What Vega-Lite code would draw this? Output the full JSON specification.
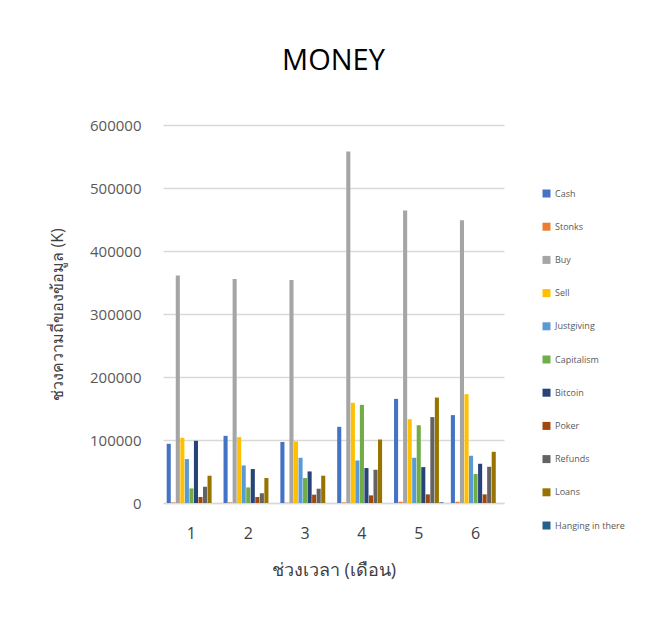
{
  "$schema": "https://vega.github.io/schema/vega-lite/v6.json",
  "autosize": {"type": "none"},
  "width": 341,
  "height": 378,
  "padding": {"left": 163, "top": 125, "right": 153, "bottom": 118},
  "background": "white",
  "title": {
    "text": "MONEY",
    "fontSize": 29,
    "font": "Open Sans",
    "fontWeight": "normal",
    "color": "#000000",
    "anchor": "middle",
    "frame": "group",
    "offset": 42
  },
  "data": {
    "values": [
      {"month": "1", "series": "Cash", "value": 94000},
      {"month": "1", "series": "Stonks", "value": 1000},
      {"month": "1", "series": "Buy", "value": 361300},
      {"month": "1", "series": "Sell", "value": 103500},
      {"month": "1", "series": "Justgiving", "value": 69700},
      {"month": "1", "series": "Capitalism", "value": 23200},
      {"month": "1", "series": "Bitcoin", "value": 98700},
      {"month": "1", "series": "Poker", "value": 9500},
      {"month": "1", "series": "Refunds", "value": 25800},
      {"month": "1", "series": "Loans", "value": 43300},
      {"month": "1", "series": "Hanging in there", "value": 0},
      {"month": "2", "series": "Cash", "value": 106600},
      {"month": "2", "series": "Stonks", "value": 1000},
      {"month": "2", "series": "Buy", "value": 355500},
      {"month": "2", "series": "Sell", "value": 104600},
      {"month": "2", "series": "Justgiving", "value": 59600},
      {"month": "2", "series": "Capitalism", "value": 24700},
      {"month": "2", "series": "Bitcoin", "value": 53900},
      {"month": "2", "series": "Poker", "value": 9500},
      {"month": "2", "series": "Refunds", "value": 15300},
      {"month": "2", "series": "Loans", "value": 39600},
      {"month": "2", "series": "Hanging in there", "value": 0},
      {"month": "3", "series": "Cash", "value": 96700},
      {"month": "3", "series": "Stonks", "value": 500},
      {"month": "3", "series": "Buy", "value": 353900},
      {"month": "3", "series": "Sell", "value": 97700},
      {"month": "3", "series": "Justgiving", "value": 71800},
      {"month": "3", "series": "Capitalism", "value": 39600},
      {"month": "3", "series": "Bitcoin", "value": 50100},
      {"month": "3", "series": "Poker", "value": 13200},
      {"month": "3", "series": "Refunds", "value": 22700},
      {"month": "3", "series": "Loans", "value": 43300},
      {"month": "3", "series": "Hanging in there", "value": 0},
      {"month": "4", "series": "Cash", "value": 120900},
      {"month": "4", "series": "Stonks", "value": 1000},
      {"month": "4", "series": "Buy", "value": 557800},
      {"month": "4", "series": "Sell", "value": 159000},
      {"month": "4", "series": "Justgiving", "value": 67500},
      {"month": "4", "series": "Capitalism", "value": 155800},
      {"month": "4", "series": "Bitcoin", "value": 55500},
      {"month": "4", "series": "Poker", "value": 12100},
      {"month": "4", "series": "Refunds", "value": 52800},
      {"month": "4", "series": "Loans", "value": 100800},
      {"month": "4", "series": "Hanging in there", "value": 0},
      {"month": "5", "series": "Cash", "value": 165300},
      {"month": "5", "series": "Stonks", "value": 2000},
      {"month": "5", "series": "Buy", "value": 464300},
      {"month": "5", "series": "Sell", "value": 133100},
      {"month": "5", "series": "Justgiving", "value": 71800},
      {"month": "5", "series": "Capitalism", "value": 123600},
      {"month": "5", "series": "Bitcoin", "value": 57000},
      {"month": "5", "series": "Poker", "value": 13700},
      {"month": "5", "series": "Refunds", "value": 136300},
      {"month": "5", "series": "Loans", "value": 167400},
      {"month": "5", "series": "Hanging in there", "value": 1000},
      {"month": "6", "series": "Cash", "value": 139500},
      {"month": "6", "series": "Stonks", "value": 2000},
      {"month": "6", "series": "Buy", "value": 449000},
      {"month": "6", "series": "Sell", "value": 172700},
      {"month": "6", "series": "Justgiving", "value": 75000},
      {"month": "6", "series": "Capitalism", "value": 46000},
      {"month": "6", "series": "Bitcoin", "value": 62300},
      {"month": "6", "series": "Poker", "value": 13700},
      {"month": "6", "series": "Refunds", "value": 57500},
      {"month": "6", "series": "Loans", "value": 81300},
      {"month": "6", "series": "Hanging in there", "value": 0}
    ]
  },
  "mark": {"type": "bar"},
  "encoding": {
    "x": {
      "field": "month",
      "type": "nominal",
      "scale": {"paddingInner": 0.13, "paddingOuter": 0.065},
      "axis": {
        "title": "ช่วงเวลา (เดือน)",
        "titleFontSize": 18,
        "titleFontWeight": "normal",
        "titleColor": "#404040",
        "titlePadding": 20,
        "labelAngle": 0,
        "labelFontSize": 16,
        "labelColor": "#404040",
        "labelFont": "Open Sans",
        "labelPadding": 22,
        "ticks": false,
        "domain": true,
        "domainColor": "#d9d9d9",
        "domainWidth": 1.5
      }
    },
    "xOffset": {
      "field": "series",
      "type": "nominal",
      "sort": ["Cash", "Stonks", "Buy", "Sell", "Justgiving", "Capitalism", "Bitcoin", "Poker", "Refunds", "Loans", "Hanging in there"],
      "scale": {"paddingInner": 0.1}
    },
    "y": {
      "field": "value",
      "type": "quantitative",
      "scale": {"domain": [0, 600000], "nice": false},
      "axis": {
        "title": "ช่วงความถี่ของข้อมูล (K)",
        "titleFontSize": 16,
        "titleFontWeight": "normal",
        "titleColor": "#404040",
        "titlePadding": 24,
        "values": [0, 100000, 200000, 300000, 400000, 500000, 600000],
        "format": "d",
        "labelFontSize": 15,
        "labelFont": "Open Sans",
        "labelColor": "#595959",
        "labelPadding": 22,
        "ticks": false,
        "domain": false,
        "grid": true,
        "gridColor": "#d9d9d9",
        "gridWidth": 1.5
      }
    },
    "color": {
      "field": "series",
      "type": "nominal",
      "sort": ["Cash", "Stonks", "Buy", "Sell", "Justgiving", "Capitalism", "Bitcoin", "Poker", "Refunds", "Loans", "Hanging in there"],
      "scale": {
        "domain": ["Cash", "Stonks", "Buy", "Sell", "Justgiving", "Capitalism", "Bitcoin", "Poker", "Refunds", "Loans", "Hanging in there"],
        "range": ["#4472C4", "#ED7D31", "#A5A5A5", "#FFC000", "#5B9BD5", "#70AD47", "#264478", "#9E480E", "#636363", "#997300", "#255E91"]
      },
      "legend": {
        "title": null,
        "orient": "none",
        "legendX": 379,
        "legendY": 64,
        "symbolType": "square",
        "symbolSize": 64,
        "symbolStrokeWidth": 0,
        "labelFontSize": 9,
        "labelFont": "Open Sans",
        "labelColor": "#595959",
        "rowPadding": 23.2,
        "labelOffset": 4
      }
    }
  },
  "config": {
    "view": {"stroke": null},
    "font": "Open Sans"
  }
}
